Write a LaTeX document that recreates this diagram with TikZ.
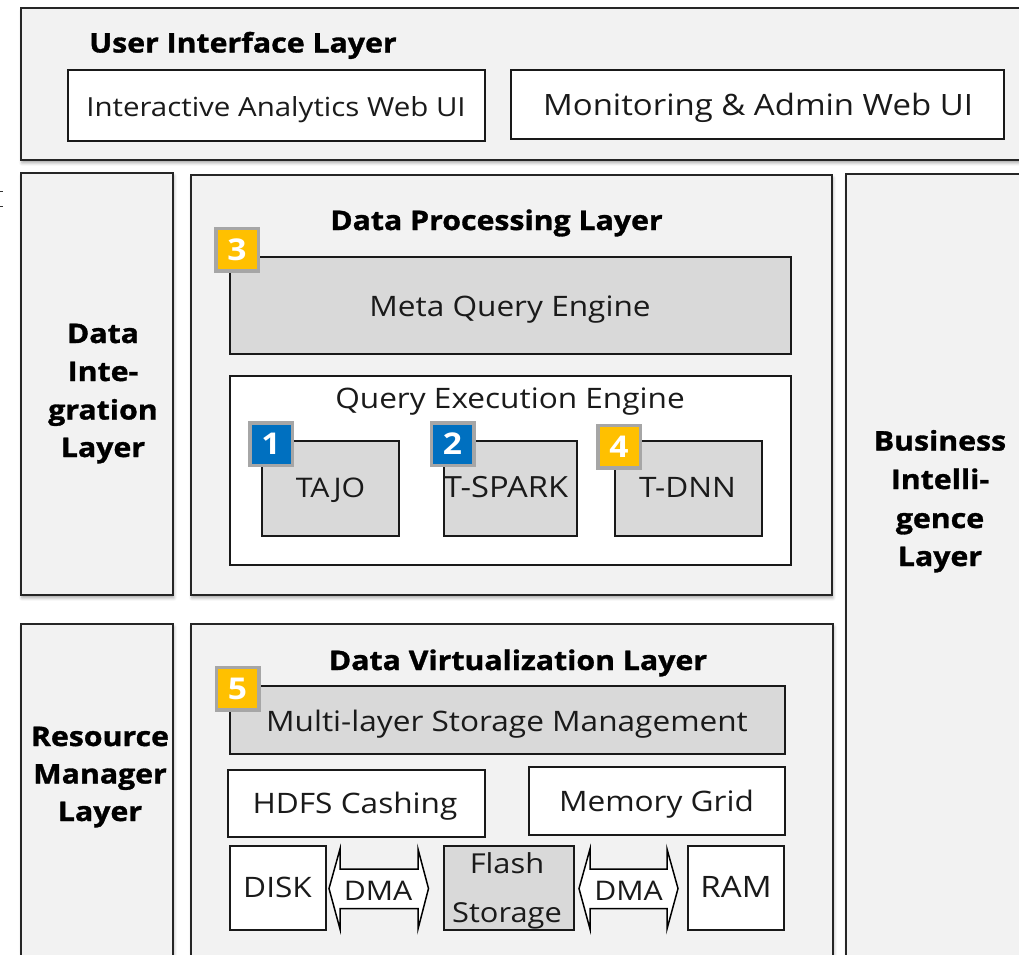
\documentclass[tikz,border=0pt]{standalone}
\usepackage{fontspec}
\setmainfont{Open Sans}[FakeStretch=1.12]
\newfontfamily\titlefont{Open Sans}[FakeStretch=1.12, FakeBold=1.2]
\usetikzlibrary{shadows.blur}

\definecolor{layerfill}{HTML}{F2F2F2}
\definecolor{boxgray}{HTML}{D9D9D9}
\definecolor{badgeframe}{HTML}{A6A6A6}
\definecolor{badgeyellow}{HTML}{FFC000}
\definecolor{badgeblue}{HTML}{0070C0}
\definecolor{ink}{HTML}{1A1A1A}

\newcommand\txtsize[1]{\fontsize{#1}{#1}\selectfont}

\begin{document}
\begin{tikzpicture}[x=1pt, y=-1pt,
  every node/.style={text=ink},
  layer/.style={draw=black!85, line width=1.8pt, fill=layerfill, rectangle,
    inner sep=0pt, anchor=north west,
    blur shadow={shadow xshift=1pt, shadow yshift=-3pt, shadow blur radius=3pt, shadow opacity=35}},
  whitebox/.style={draw=black!90, line width=1.5pt, fill=white, rectangle,
    inner sep=0pt, anchor=north west},
  graybox/.style={whitebox, fill=boxgray},
  lbl/.style={inner sep=0pt, anchor=base, font=\txtsize{28.2}},
  title/.style={inner sep=0pt, anchor=base, text=black, font=\titlefont\bfseries\txtsize{27}},
  badge/.style={draw=badgeframe, line width=3.5pt, rectangle, minimum size=42.5pt,
    inner sep=0pt, text=white, font=\bfseries\txtsize{30}},
  dma/.style={draw=black, line width=1.5pt, fill=white, line join=miter}
]
\useasboundingbox (0,0) rectangle (1019,954);
\clip (0,0) rectangle (1019,954);

% ---------- outer layers ----------
\node[layer, minimum width=1020pt, minimum height=152pt] (ui) at (20,7) {};
\node[layer, minimum width=152pt, minimum height=422pt] (integ) at (20,172) {};
\node[layer, minimum width=641pt, minimum height=420pt] (proc) at (190,174) {};
\node[layer, minimum width=200pt, minimum height=800pt] (bi) at (845,173) {};
\node[layer, minimum width=152pt, minimum height=360pt] (rm) at (20,623) {};
\node[layer, minimum width=642pt, minimum height=360pt] (virt) at (190,623) {};

% stray marks at the left margin
\draw[line width=1.4pt, black!80] (0,191.7) -- (3,191.7);
\draw[line width=1.4pt, black!80] (0,206.7) -- (3,206.7);

% ---------- user interface layer ----------
\node[title] (uititle) at (243,52.5) {User Interface Layer};
\node[whitebox, minimum width=417pt, minimum height=71pt] (iaweb) at (67,69) {};
\node[lbl, font=\txtsize{26.3}] (iawebtext) at (276,116.5) {Interactive Analytics Web UI};
\node[whitebox, minimum width=493pt, minimum height=69pt] (monweb) at (510,69) {};
\node[lbl, font=\txtsize{29.4}] (monwebtext) at (758,115) {Monitoring \& Admin Web UI};

% ---------- data integration layer ----------
\node[title] (integ1) at (103,343) {Data};
\node[title] (integ2) at (103,381) {Inte-};
\node[title] (integ3) at (103,419.5) {gration};
\node[title] (integ4) at (103,457) {Layer};

% ---------- business intelligence layer ----------
\node[title] (bi1) at (940,450.5) {Business};
\node[title] (bi2) at (940,489) {Intelli-};
\node[title] (bi3) at (940,528) {gence};
\node[title] (bi4) at (940,566) {Layer};

% ---------- resource manager layer ----------
\node[title] (rm1) at (100,746) {Resource};
\node[title] (rm2) at (100,783.5) {Manager};
\node[title] (rm3) at (100,821) {Layer};

% ---------- data processing layer ----------
\node[title] (proctitle) at (496.5,230) {Data Processing Layer};
\node[graybox, minimum width=561pt, minimum height=97pt] (meta) at (229,256) {};
\node[lbl] (metatext) at (510,316) {Meta Query Engine};
\node[whitebox, minimum width=561pt, minimum height=189pt] (qee) at (229,375) {};
\node[lbl] (qeetext) at (510,408) {Query Execution Engine};
\node[graybox, minimum width=137pt, minimum height=95pt] (tajo) at (261,440) {};
\node[lbl, font=\txtsize{27}] (tajotext) at (330.5,497.5) {TAJO};
\node[graybox, minimum width=133pt, minimum height=95pt] (tspark) at (443,440) {};
\node[lbl, font=\txtsize{29.2}] (tsparktext) at (506,497.5) {T-SPARK};
\node[graybox, minimum width=147pt, minimum height=95pt] (tdnn) at (614,440) {};
\node[lbl] (tdnntext) at (687.5,497.5) {T-DNN};

\node[badge, fill=badgeyellow] (b3) at (237,249.5) {3};
\node[badge, fill=badgeblue] (b1) at (271,444) {1};
\node[badge, fill=badgeblue] (b2) at (452.5,444) {2};
\node[badge, fill=badgeyellow] (b4) at (619,446.5) {4};

% ---------- data virtualization layer ----------
\node[title] (virttitle) at (518,670) {Data Virtualization Layer};
\node[graybox, minimum width=555pt, minimum height=68pt] (mlsm) at (229,685) {};
\node[lbl] (mlsmtext) at (507,731) {Multi-layer Storage Management};
\node[badge, fill=badgeyellow] (b5) at (237.5,688.5) {5};
\node[whitebox, minimum width=257pt, minimum height=67pt] (hdfs) at (227,769) {};
\node[lbl] (hdfstext) at (355,813) {HDFS Cashing};
\node[whitebox, minimum width=256pt, minimum height=68pt] (mgrid) at (528,766) {};
\node[lbl] (mgridtext) at (656.5,811) {Memory Grid};

\node[whitebox, minimum width=96pt, minimum height=84pt] (disk) at (229,845) {};
\node[lbl] (disktext) at (277.5,897) {DISK};
\node[graybox, minimum width=130pt, minimum height=84pt] (flash) at (443,845) {};
\node[lbl, font=\txtsize{27.5}] (flashtext1) at (507,873) {Flash};
\node[lbl, font=\txtsize{27.5}] (flashtext2) at (507,922) {Storage};
\node[whitebox, minimum width=96pt, minimum height=84pt] (ram) at (687,845) {};
\node[lbl, font=\txtsize{29.5}] (ramtext) at (736,897) {RAM};

% DMA double arrows between the storage devices
\draw[dma] (329,888.5) -- (340,849) -- (340,869) -- (418,869) -- (418,849) -- (428.5,888.5)
  -- (418,929) -- (418,908.5) -- (340,908.5) -- (340,929) -- cycle;
\node[lbl, font=\txtsize{27}] (dma1) at (378,900) {DMA};
\draw[dma] (579,888.5) -- (590,849) -- (590,869) -- (667,869) -- (667,849) -- (678,888.5)
  -- (667,929) -- (667,908.5) -- (590,908.5) -- (590,929) -- cycle;
\node[lbl, font=\txtsize{27}] (dma2) at (628.5,900) {DMA};
\end{tikzpicture}
\end{document}
